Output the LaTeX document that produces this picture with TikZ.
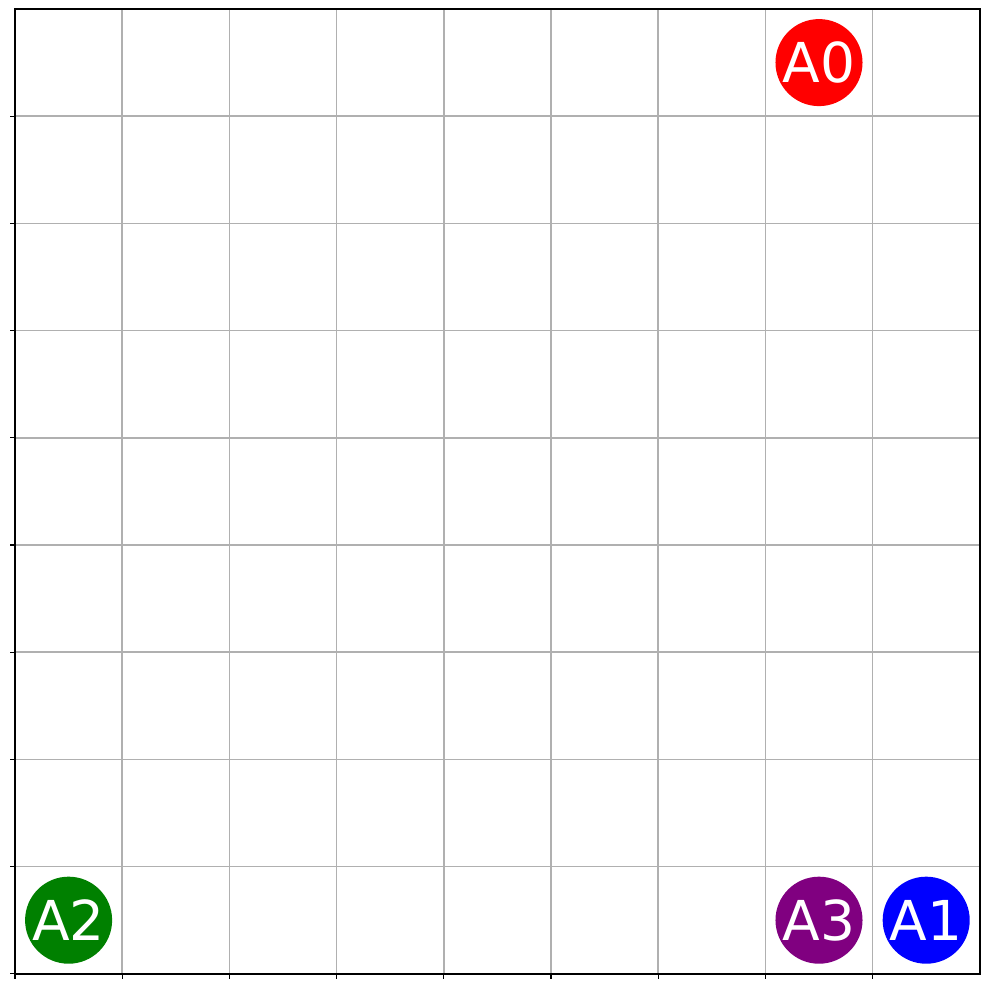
\documentclass[tikz,border=0pt]{standalone}
\usepackage{fontspec}
\setmainfont{DejaVu Sans}
\usepackage{xcolor}
\usetikzlibrary{positioning}
\definecolor{mplgreen}{HTML}{008000}
\definecolor{mplpurple}{HTML}{800080}
\definecolor{gridgray}{HTML}{B0B0B0}
\begin{document}
\begin{tikzpicture}[agent/.style={circle, fill=#1, text=white, inner sep=0pt, minimum size=8.12mm, font=\fontsize{14.6}{16}\selectfont}]
\useasboundingbox (-0.14,-0.14) rectangle (9.086,9.084);
\foreach \i in {1,...,8} {\draw[gridgray, line width=0.4pt] (\i,0) -- (\i,9); \draw[gridgray, line width=0.4pt] (0,\i) -- (9,\i);}
\foreach \i in {0,...,8} {\draw[line width=0.3pt] (\i,0) -- (\i,-0.047); \draw[line width=0.3pt] (0,\i) -- (-0.047,\i);}
\draw[line width=0.4pt] (0,0) rectangle (9,9);
\node[agent=red] (a0) at (7.5,8.5) {A0};
\node[agent=blue] (a1) at (8.5,0.5) {A1};
\node[agent=mplgreen] (a2) at (0.5,0.5) {A2};
\node[agent=mplpurple] (a3) at (7.5,0.5) {A3};
\end{tikzpicture}
\end{document}
